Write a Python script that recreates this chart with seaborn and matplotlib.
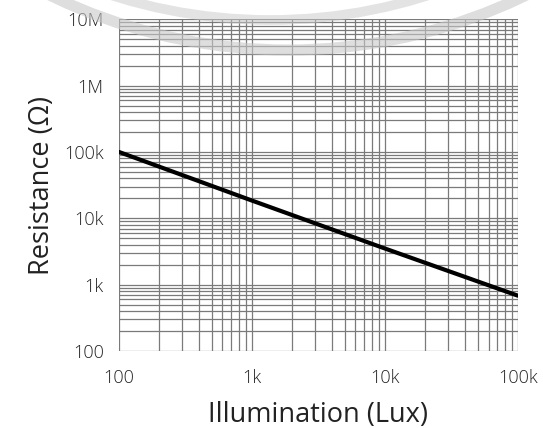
import numpy as np
import pandas as pd
import seaborn as sns
import matplotlib
matplotlib.use("Agg")
import matplotlib.pyplot as plt
from matplotlib.patches import Arc
from matplotlib.ticker import FixedLocator, LogLocator, NullFormatter

# Data
illumination = [100, 1000, 10000, 100000]
resistance = [100000, 18500, 3500, 680]
x_ticks = [100, 1000, 10000, 100000]
x_tick_labels = ["100", "1k", "10k", "100k"]
y_ticks = [100, 1000, 10000, 100000, 1000000, 10000000]
y_tick_labels = ["100", "1k", "10k", "100k", "1M", "10M"]

sns.set_style("white")
plt.rcParams['font.family'] = ['Open Sans', 'DejaVu Sans']
plt.rcParams['font.weight'] = 'light'

df = pd.DataFrame({"Illumination": illumination, "Resistance": resistance})

fig = plt.figure(figsize=(5.43, 4.28), dpi=100)
ax = fig.add_axes([0.219, 0.180, 0.735, 0.775])

ax.set_xscale("log")
ax.set_yscale("log")
sns.lineplot(data=df, x="Illumination", y="Resistance", ax=ax,
             color="black", linewidth=3, zorder=5)

ax.set_xlim(100, 100000)
ax.set_ylim(100, 10000000)

ax.xaxis.set_major_locator(FixedLocator(x_ticks))
ax.set_xticklabels(x_tick_labels)
ax.yaxis.set_major_locator(FixedLocator(y_ticks))
ax.set_yticklabels(y_tick_labels)
ax.xaxis.set_minor_locator(LogLocator(base=10, subs=np.arange(2, 10)))
ax.yaxis.set_minor_locator(LogLocator(base=10, subs=np.arange(2, 10)))
ax.xaxis.set_minor_formatter(NullFormatter())
ax.yaxis.set_minor_formatter(NullFormatter())

ax.grid(True, which="both", color="#7a7a7a", linewidth=0.9)
ax.tick_params(axis="both", which="both", length=0, labelsize=13, colors="#222222")
ax.tick_params(axis="x", pad=13)
ax.tick_params(axis="y", pad=11)
for s in ax.spines.values():
    s.set_visible(False)

ax.set_xlabel("Illumination (Lux)", fontsize=19.5, color="#222222", labelpad=10)
ax.set_ylabel("Resistance (Ω)", fontsize=19.5, color="#222222", labelpad=6)

# watermark arcs
arc1 = Arc((288, 923), 1090, 1090, theta1=180, theta2=360,
           transform=None, color="#c8c8c8", linewidth=8, alpha=0.6, zorder=10)
arc2 = Arc((270, 929), 1042, 1042, theta1=180, theta2=360,
           transform=None, color="#c8c8c8", linewidth=7, alpha=0.5, zorder=10)
fig.add_artist(arc1)
fig.add_artist(arc2)

fig.savefig("out.png", dpi=100)
